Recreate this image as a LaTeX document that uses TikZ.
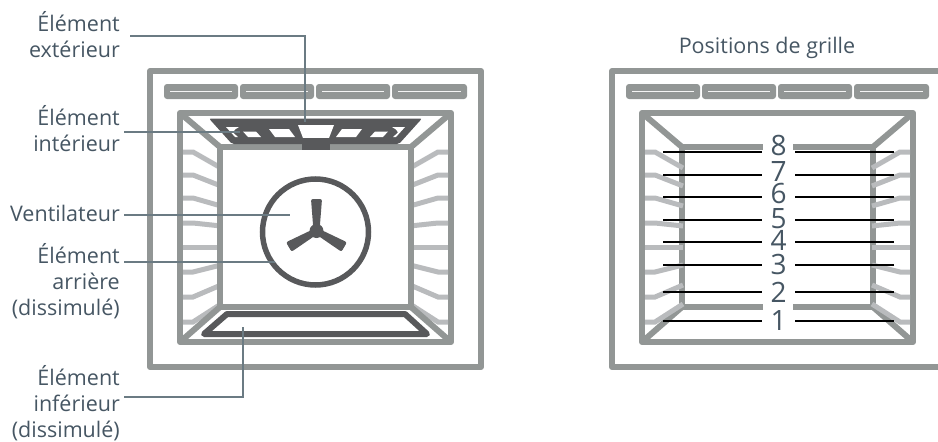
\documentclass[tikz,border=0pt]{standalone}
\usepackage{fontspec}
\setmainfont{Open Sans}
\usepackage{tikz}
\usetikzlibrary{calc}
\definecolor{framegray}{HTML}{929695}
\definecolor{ribgray}{HTML}{B9BBBD}
\definecolor{elemdark}{HTML}{58595B}
\definecolor{leadgray}{HTML}{6B7B83}
\definecolor{labelink}{HTML}{465663}
\newcommand{\ovenribs}{%
  \foreach \ya/\yb in {152/168,175/186,198/206,223/226,247/247,272/265,297/285,322/304}
    \draw[rib] (183,\ya) -- (193,\ya) -- (221,\yb);}
\newcommand{\elemgaps}{%
  \fill[white] (243,131.5) -- (256,131.5) -- (261,137) -- (248,137) -- cycle;
  \fill[white] (269,129) -- (289,129) -- (295,137) -- (275,137) -- cycle;
  \fill[white] (226,127) -- (239,127) -- (235,129.5) -- (233,132.5) -- (238,137) -- (235,137) -- cycle;}
\begin{document}
\begin{tikzpicture}[x=1pt,y=-1pt,
  wall/.style={draw=framegray,line width=6pt,line join=round},
  rib/.style={draw=ribgray,line width=5pt},
  knob/.style={fill=framegray,rounded corners=3pt},
  knobslot/.style={draw=white!90!framegray,line width=1.2pt},
  elem/.style={draw=elemdark,line width=6pt,line join=round},
  leader/.style={draw=leadgray,line width=1.4pt},
  rail/.style={draw=black,line width=1.6pt},
  lbl/.style={text=labelink,align=right,inner ysep=0pt,inner xsep=4pt,anchor=base east,
    font=\fontsize{21.5}{26}\selectfont},
  digit/.style={text=labelink,minimum width=33pt,inner sep=0pt,anchor=base,
    font=\fontsize{28}{28}\selectfont}]
\useasboundingbox (0,0) rectangle (938,442);
% both ovens: casing and control strip
\foreach \ox in {0,462} {
  \begin{scope}[xshift=\ox pt]
  \draw[wall] (150,71) rectangle (481,367);
  \draw[wall] (180,113) rectangle (451,342);
  \foreach \ka/\kb in {164/238,240/314,316/390,392/467} {
    \fill[knob] (\ka,84) rectangle (\kb,99);
    \draw[knobslot] (\ka+6,91.5) -- (\kb-6,91.5);
  }
  \end{scope}
}
% left oven
\ovenribs
\begin{scope}[xshift=631pt,xscale=-1]
\ovenribs
\end{scope}
\draw[wall] (220,147) rectangle (411,307);
\draw[wall] (180,113) -- (220,147);
\draw[wall] (451,113) -- (411,147);
\draw[wall] (180,342) -- (220,307);
\draw[wall] (451,342) -- (411,307);
% top element
\fill[elemdark,rounded corners=2pt] (209,118.5) -- (422,118.5) -- (399,144) -- (232,144) -- cycle;
\fill[white] (298,125) -- (334,125) -- (329,138) -- (303,138) -- cycle;
\elemgaps
\begin{scope}[xshift=631pt,xscale=-1]
\elemgaps
\end{scope}
\fill[elemdark] (302,138) rectangle (330,150);
% bottom element
\draw[elem] (227,314) -- (405,314) -- (427,334) -- (204,334) -- cycle;
% fan
\coordinate (fanhub) at (316.5,231);
\draw[draw=elemdark,line width=5.5pt] (315.5,232) circle (53);
\fill[elemdark] (fanhub) circle (7);
\foreach \ang in {90,210,330}
  \fill[elemdark,rounded corners=2pt,shift={(fanhub)},rotate=\ang]
    (0,-3) -- (32,-5.5) -- (32,5.5) -- (0,3) -- cycle;
% labels
\node[lbl,inner xsep=10pt] (lblext) at (130,57) {Élément\\extérieur};
\node[lbl] (lblint) at (124,151) {Élément\\intérieur};
\node[lbl] (lblfan) at (124,221) {Ventilateur};
\node[lbl] (lblrear) at (124,315) {Élément\\arrière\\(dissimulé)};
\node[lbl] (lblbot) at (124,437) {Élément\\inférieur\\(dissimulé)};
\coordinate (extbend) at (305,36);
\coordinate (exttip) at (305,122);
\coordinate (inttip) at (240,132);
\coordinate (fantip) at (290,215);
\coordinate (reartip) at (275,262);
\coordinate (botbend) at (243,397);
\coordinate (bottip) at (243,327);
\draw[leader] (lblext.east |- extbend) -- (extbend) -- (exttip);
\draw[leader] (lblint.east |- inttip) -- (inttip);
\draw[leader] (lblfan.east |- fantip) -- (fantip);
\draw[leader] (lblrear.east |- reartip) -- (reartip);
\draw[leader] (lblbot.east |- botbend) -- (botbend) -- (bottip);
% right oven
\node[text=labelink,font=\fontsize{21.5}{26}\selectfont] (gridtitle) at (767,48) {Positions de grille};
\begin{scope}[xshift=462pt]
\draw[wall] (220,307) -- (220,147) -- (301,147);
\draw[wall] (411,307) -- (411,147) -- (331,147);
\draw[wall] (220,307) -- (301,307);
\draw[wall] (411,307) -- (331,307);
\draw[wall] (180,113) -- (220,147);
\draw[wall] (451,113) -- (411,147);
\draw[wall] (180,342) -- (220,307);
\draw[wall] (451,342) -- (411,307);
\ovenribs
\begin{scope}[xshift=631pt,xscale=-1]
\ovenribs
\end{scope}
\end{scope}
\foreach \n/\base/\yrail in {8/155/152,7/181/175,6/203/197,5/228/220,4/250/242,3/274/265,2/302/292,1/330/321} {
  \node[digit] (pos\n) at (778.5,\base) {\n};
  \coordinate (railL\n) at (663,\yrail);
  \coordinate (railR\n) at (894,\yrail);
  \draw[rail] (railL\n) -- (pos\n.west |- railL\n);
  \draw[rail] (railR\n) -- (pos\n.east |- railR\n);
}
\end{tikzpicture}
\end{document}
